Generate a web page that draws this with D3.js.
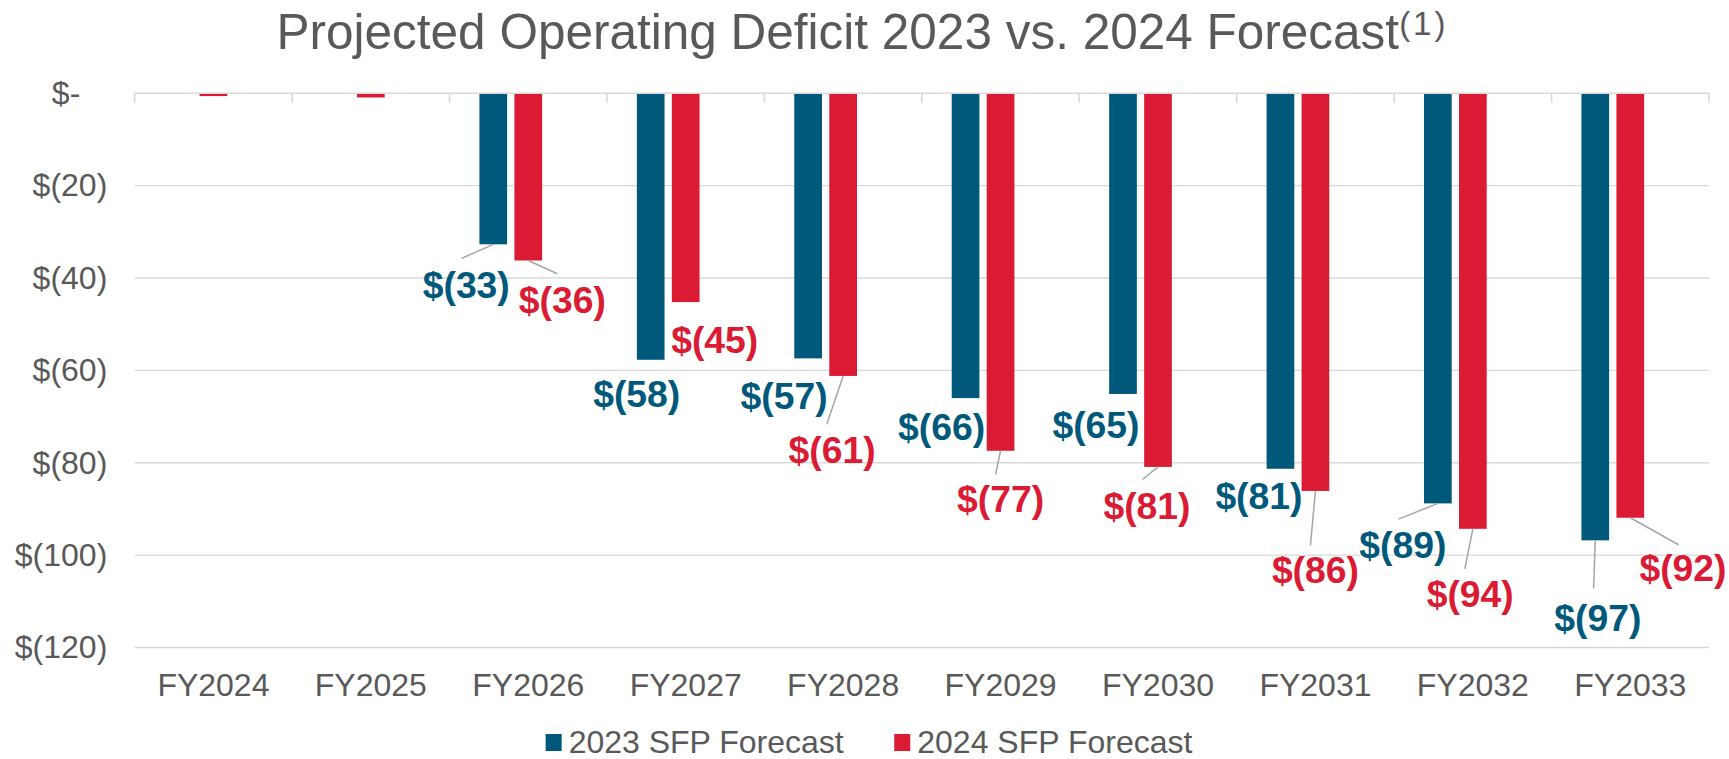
<!DOCTYPE html>
<html>
<head>
<meta charset="utf-8">
<script src="https://cdn.jsdelivr.net/npm/d3@7"></script>
<style>
  html, body { margin: 0; padding: 0; background: #ffffff; }
  svg { display: block; font-family: "Liberation Sans", Arial, sans-serif; }
</style>
</head>
<body>
<svg id="chart" width="1729" height="759"></svg>
<script>
// ---------- data ----------
const categories = ["FY2024", "FY2025", "FY2026", "FY2027", "FY2028", "FY2029", "FY2030", "FY2031", "FY2032", "FY2033"];
const seriesNames = ["2023 SFP Forecast", "2024 SFP Forecast"];
const forecast2023 = [0, 0, -32.7, -57.7, -57.4, -66.0, -65.1, -81.3, -88.8, -96.8];
const forecast2024 = [-0.6, -0.9, -36.2, -45.2, -61.2, -77.4, -80.9, -86.1, -94.3, -91.9];
const yTickValues = [0, -20, -40, -60, -80, -100, -120];
const titleText = "Projected Operating Deficit 2023 vs. 2024 Forecast";
const titleNote = "(1)";

// ---------- label layout (offsets from bar end: label centre dx, dy; leader end lx, ly) ----------
const labelLayout2023 = [null, null, [-27, 40, -31.5, 14], [-14, 34], [-24, 37], [-24, 29], [-27, 31], [-21.5, 27], [-35, 41, -39.3, 15.7], [2.5, 77, -1.7, 48]];
const labelLayout2024 = [null, null, [34, 39, 29, 13.3], [29, 38], [-11, 74, -16.3, 48.3], [0, 48, -5, 23.6], [-11, 39, -15.5, 12.6], [0, 79, -5, 54.5], [-2.6, 65, -8, 40], [52.7, 50, 48.3, 27]];

const colors = ["#00597B", "#DB1A33"];
const textColor = "#595959";
const gridColor = "#D9D9D9";
const labelFont = 37.3;

const svg = d3.select("#chart");
const W = 1729;
const plotLeft = 134.7, plotRight = 1709, plotTop = 93.3, plotBottom = 647.5;

const x0 = d3.scaleBand().domain(categories).range([plotLeft, plotRight]).padding(0);
const x1 = d3.scaleBand().domain(["s0", "s1", "spare"]).range([0, x0.bandwidth()])
  .paddingInner(0.2086).paddingOuter(0.853);
const y = d3.scaleLinear().domain([-120, 0]).range([plotBottom, plotTop]);

// ---------- title ----------
const title = svg.append("text")
  .attr("x", W / 2 - 2).attr("y", 48.5)
  .attr("text-anchor", "middle")
  .attr("fill", textColor)
  .style("font-size", "49.5px");
title.append("tspan").text(titleText);
title.append("tspan").text(titleNote)
  .attr("dy", -13.5).style("font-size", "33px").attr("letter-spacing", "3px");

// ---------- gridlines ----------
svg.append("g").selectAll("line")
  .data(yTickValues.filter(d => d !== 0))
  .join("line")
  .attr("x1", plotLeft).attr("x2", plotRight)
  .attr("y1", d => y(d)).attr("y2", d => y(d))
  .attr("stroke", gridColor).attr("stroke-width", 1.4);

// ---------- y axis ----------
const fmt = d => d === 0 ? "$-" : "$(" + Math.abs(d) + ")";
const yAxis = svg.append("g")
  .attr("transform", `translate(${plotLeft},0)`)
  .call(d3.axisLeft(y).tickValues(yTickValues).tickFormat(fmt).tickSize(0).tickPadding(27.4));
yAxis.select(".domain").remove();
yAxis.selectAll("text")
  .attr("fill", textColor)
  .style("font-size", "32px")
  .style("font-family", "'Liberation Sans', Arial, sans-serif")
  .attr("dx", d => d === 0 ? -27 : 0);

// ---------- bars ----------
const seriesData = [forecast2023, forecast2024];
const layouts = [labelLayout2023, labelLayout2024];
seriesData.forEach((vals, si) => {
  svg.append("g").selectAll("rect")
    .data(vals.map((v, i) => ({ cat: categories[i], v })))
    .join("rect")
    .attr("x", d => x0(d.cat) + x1("s" + si))
    .attr("width", x1.bandwidth())
    .attr("y", d => y(Math.max(0, d.v)))
    .attr("height", d => Math.abs(y(d.v) - y(0)))
    .attr("fill", colors[si]);
});

// ---------- category axis (zero line with boundary ticks) ----------
const axisG = svg.append("g");
axisG.append("line")
  .attr("x1", plotLeft).attr("x2", plotRight)
  .attr("y1", y(0)).attr("y2", y(0))
  .attr("stroke", gridColor).attr("stroke-width", 1.6);
const boundaries = categories.map(c => x0(c)).concat([x0(categories[categories.length - 1]) + x0.bandwidth()]);
axisG.selectAll("line.tick")
  .data(boundaries)
  .join("line").attr("class", "tick")
  .attr("x1", d => d).attr("x2", d => d)
  .attr("y1", y(0)).attr("y2", y(0) + 9.5)
  .attr("stroke", gridColor).attr("stroke-width", 1.6);

const xAxis = svg.append("g")
  .attr("transform", `translate(0,${plotBottom})`)
  .call(d3.axisBottom(x0).tickSize(0).tickPadding(25.5));
xAxis.select(".domain").remove();
xAxis.selectAll("text")
  .attr("fill", textColor)
  .style("font-size", "32px")
  .style("font-family", "'Liberation Sans', Arial, sans-serif");

// ---------- data labels with leader lines ----------
seriesData.forEach((vals, si) => {
  const g = svg.append("g");
  vals.forEach((v, i) => {
    const lay = layouts[si][i];
    if (!lay) return;
    const bx = x0(categories[i]) + x1("s" + si) + x1.bandwidth() / 2;
    const by = y(v);
    if (lay.length > 2) {
      g.append("line")
        .attr("x1", bx).attr("y1", by)
        .attr("x2", bx + lay[2]).attr("y2", by + lay[3])
        .attr("stroke", "#A6A6A6").attr("stroke-width", 1.5);
    }
    g.append("text")
      .attr("x", bx + lay[0])
      .attr("y", by + lay[1] + 0.358 * labelFont)
      .attr("text-anchor", "middle")
      .attr("fill", colors[si])
      .style("font-size", labelFont + "px")
      .style("font-weight", "bold")
      .text("$(" + Math.round(Math.abs(v)) + ")");
  });
});

// ---------- legend ----------
const legend = svg.append("g");
const items = seriesNames.map((name, i) => {
  const it = legend.append("g");
  it.append("rect").attr("x", 0).attr("y", -19).attr("width", 16).attr("height", 17).attr("fill", colors[i]);
  const t = it.append("text").attr("x", 23).attr("y", 0)
    .attr("fill", textColor).style("font-size", "32px").text(name);
  return { g: it, w: 23 + t.node().getComputedTextLength() };
});
const gap = 50.5;
const totalW = items.reduce((s, d) => s + d.w, 0) + gap * (items.length - 1);
let cx = 869 - totalW / 2;
items.forEach(d => {
  d.g.attr("transform", `translate(${cx},753)`);
  cx += d.w + gap;
});
</script>
</body>
</html>
